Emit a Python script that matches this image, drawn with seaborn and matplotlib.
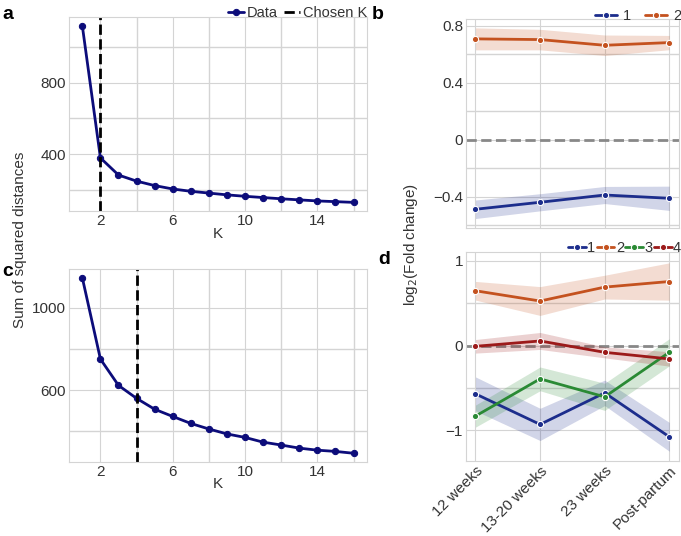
import numpy as np
import pandas as pd
import matplotlib
matplotlib.use('Agg')
import matplotlib.pyplot as plt
import seaborn as sns
from matplotlib.ticker import MultipleLocator

# elbow curves
k_values = list(range(1, 17))
sse_a = [1118, 379, 283, 249, 224, 205, 192, 182, 172, 164, 157, 150, 144, 138, 134, 130]
sse_c = [1146, 751, 623, 560, 507, 472, 438, 411, 387, 370, 347, 333, 318, 308, 302, 293]
chosen_k_a = 2
chosen_k_c = 4

# fold change per cluster
timepoints = ['12 weeks', '13-20 weeks', '23 weeks', 'Post-partum']
b_mean = {'1': [-0.488, -0.439, -0.388, -0.411],
          '2': [0.707, 0.702, 0.662, 0.681]}
b_err = {'1': [0.065, 0.060, 0.060, 0.085],
         '2': [0.077, 0.072, 0.072, 0.050]}
d_mean = {'1': [-0.569, -0.929, -0.557, -1.075],
          '2': [0.647, 0.526, 0.690, 0.756],
          '3': [-0.831, -0.392, -0.604, -0.079],
          '4': [-0.008, 0.055, -0.079, -0.157]}
d_err = {'1': [0.20, 0.19, 0.15, 0.17],
         '2': [0.11, 0.17, 0.14, 0.22],
         '3': [0.13, 0.14, 0.16, 0.16],
         '4': [0.08, 0.10, 0.065, 0.085]}

cluster_colors = {'1': '#1c2d8c', '2': '#c4521f', '3': '#2a8a34', '4': '#9c1a1a'}
navy = '#0c0c7a'

sns.set_style('whitegrid', {'grid.color': '#d4d4d4', 'axes.edgecolor': '#d4d4d4'})
plt.rcParams['font.family'] = ['Liberation Sans', 'DejaVu Sans']
plt.rcParams['font.size'] = 11
plt.rcParams['text.color'] = '#333333'
plt.rcParams['axes.labelcolor'] = '#333333'
plt.rcParams['xtick.color'] = '#333333'
plt.rcParams['ytick.color'] = '#333333'

fig = plt.figure(figsize=(6.81, 5.36), dpi=100)
ax_a = fig.add_axes([0.101, 0.606, 0.438, 0.362])
ax_c = fig.add_axes([0.101, 0.138, 0.438, 0.360])
ax_b = fig.add_axes([0.684, 0.575, 0.313, 0.390])
ax_d = fig.add_axes([0.684, 0.140, 0.313, 0.390])


def elbow(ax, sse, chosen, legend):
    df = pd.DataFrame({'K': k_values, 'SSE': sse})
    sns.lineplot(data=df, x='K', y='SSE', ax=ax, color=navy, marker='o',
                 markersize=4.5, markeredgecolor=navy, linewidth=2, label='Data')
    ax.axvline(chosen, color='black', linestyle='--', linewidth=2, label='Chosen K')
    ax.set_xlim(0.25, 16.75)
    ax.set_xticks([2, 6, 10, 14])
    ax.xaxis.set_minor_locator(MultipleLocator(2))
    ax.yaxis.set_minor_locator(MultipleLocator(200))
    ax.grid(which='minor', color='#d4d4d4', linewidth=1)
    ax.tick_params(which='both', length=0, pad=2)
    ax.set_xlabel('K', labelpad=-1)
    ax.set_ylabel('')
    if legend:
        ax.legend(loc='lower right', bbox_to_anchor=(1.0, 0.985), ncol=2, frameon=False,
                  fontsize=10.5, handlelength=1.1, handletextpad=0.2, columnspacing=0.4,
                  borderaxespad=0, borderpad=0)
    else:
        ax.get_legend().remove()


elbow(ax_a, sse_a, chosen_k_a, True)
ax_a.set_yticks([400, 800])
elbow(ax_c, sse_c, chosen_k_c, False)
ax_c.set_yticks([600, 1000])


def fold(ax, means, errs, major_y, compact):
    x = np.arange(len(timepoints))
    ax.axhline(0, color='#888888', linestyle='--', linewidth=2, zorder=1)
    for name, m in means.items():
        m = np.array(m)
        e = np.array(errs[name])
        col = cluster_colors[name]
        ax.fill_between(x, m - e, m + e, color=col, alpha=0.2, linewidth=0, zorder=2)
        df = pd.DataFrame({'t': x, 'v': m})
        sns.lineplot(data=df, x='t', y='v', ax=ax, color=col, linewidth=2,
                     marker='o', markersize=4.5, markeredgecolor='white',
                     markeredgewidth=0.8, label=name, zorder=3)
    ax.set_xlim(-0.15, 3.15)
    ax.set_xticks(x)
    ax.yaxis.set_major_locator(MultipleLocator(major_y))
    ax.yaxis.set_minor_locator(MultipleLocator(major_y / 2))
    ax.grid(which='minor', color='#d4d4d4', linewidth=1)
    ax.tick_params(which='both', length=0, pad=2)
    ax.set_xlabel('')
    ax.set_ylabel('')
    if compact:
        ax.legend(loc='lower right', bbox_to_anchor=(1.01, 0.985), ncol=4, frameon=False,
                  fontsize=10.5, handlelength=1.2, handletextpad=0.1, columnspacing=0.1,
                  borderaxespad=0, borderpad=0)
    else:
        ax.legend(loc='lower right', bbox_to_anchor=(1.01, 0.98), ncol=2, frameon=False,
                  fontsize=10.5, handlelength=1.5, handletextpad=0.4, columnspacing=1.0,
                  borderaxespad=0, borderpad=0)


fold(ax_b, b_mean, b_err, 0.4, False)
ax_b.set_yticklabels([('0' if abs(t) < 1e-9 else f'{t:.1f}'.replace('-', '\u2212'))
                      for t in ax_b.get_yticks()])
ax_b.set_ylim(-0.618, 0.848)
ax_b.set_xticklabels([])

fold(ax_d, d_mean, d_err, 1.0, True)
ax_d.set_ylim(-1.36, 1.105)
ax_d.set_xticklabels(timepoints, rotation=45, ha='right', rotation_mode='anchor')

fig.text(0.03, 0.552, 'Sum of squared distances', rotation=90, ha='center', va='center',
         fontsize=11)
fig.text(0.603, 0.543, 'log$_2$(Fold change)', rotation=90, ha='center', va='center',
         fontsize=11)

for label, (x, y) in {'a': (0.003, 0.988), 'b': (0.546, 0.988),
                      'c': (0.003, 0.51), 'd': (0.556, 0.532)}.items():
    fig.text(x, y, label, fontsize=14, fontweight='bold', color='black', va='top')

fig.savefig('out.png', dpi=100)
plt.close(fig)
